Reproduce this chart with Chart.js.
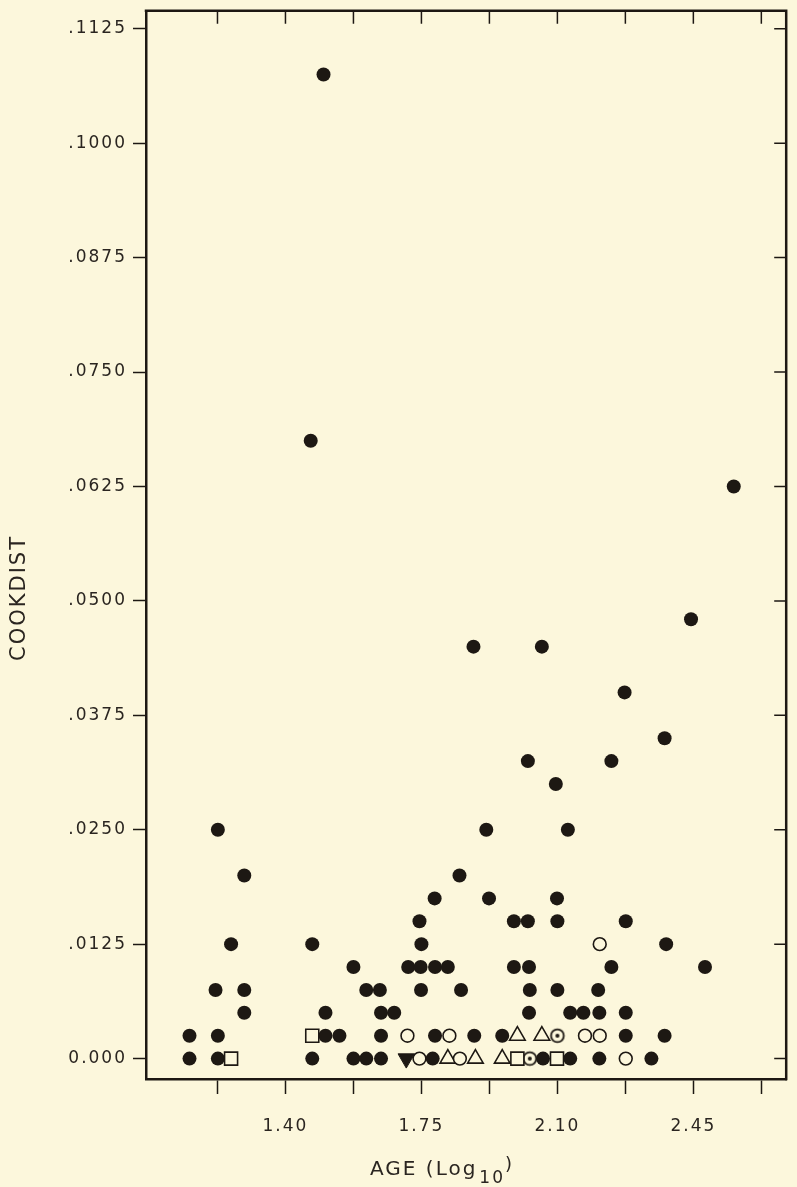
<!DOCTYPE html>
<html>
<head>
<meta charset="utf-8">
<script src="https://cdn.jsdelivr.net/npm/chart.js@4.4.0/dist/chart.umd.min.js"></script>
<style>
  html, body { margin: 0; padding: 0; background: #fcf7dc; }
  canvas { display: block; }
</style>
</head>
<body>
<canvas id="grafico" width="797" height="1187"></canvas>
<script>
// Datos: distancia de Cook contra edad (log10), un arreglo por tipo de símbolo

const llenosEdad = [
  1.153, 1.226, 1.469, 1.575, 1.608, 1.646, 1.779, 2.063, 2.133, 2.208, 2.342,
  1.153, 1.226, 1.503, 1.539, 1.646, 1.785, 1.886, 1.958, 2.276, 2.376,
  1.294, 1.503, 1.646, 1.680, 2.027, 2.133, 2.167, 2.208, 2.276,
  1.220, 1.294, 1.608, 1.643, 1.749, 1.852, 2.029, 2.100, 2.205,
  1.575, 1.716, 1.748, 1.785, 1.818, 1.988, 2.027, 2.239, 2.480,
  1.260, 1.469, 1.750, 2.380,
  1.745, 1.988, 2.024, 2.100, 2.276,
  1.784, 1.924, 2.099,
  1.294, 1.848,
  1.226, 1.917, 2.127,
  2.096,
  2.024, 2.239,
  2.376,
  2.273,
  1.884, 2.060,
  2.444,
  2.554,
  1.465,
  1.498
];
const llenosCook = [
  0, 0, 0, 0, 0, 0, 0, 0, 0, 0, 0,
  0.0025, 0.0025, 0.0025, 0.0025, 0.0025, 0.0025, 0.0025, 0.0025, 0.0025, 0.0025,
  0.005, 0.005, 0.005, 0.005, 0.005, 0.005, 0.005, 0.005, 0.005,
  0.0075, 0.0075, 0.0075, 0.0075, 0.0075, 0.0075, 0.0075, 0.0075, 0.0075,
  0.010, 0.010, 0.010, 0.010, 0.010, 0.010, 0.010, 0.010, 0.010,
  0.0125, 0.0125, 0.0125, 0.0125,
  0.015, 0.015, 0.015, 0.015, 0.015,
  0.0175, 0.0175, 0.0175,
  0.020, 0.020,
  0.025, 0.025, 0.025,
  0.030,
  0.0325, 0.0325,
  0.035,
  0.040,
  0.045, 0.045,
  0.048,
  0.0625,
  0.0675,
  0.1075
];

const abiertosEdad = [1.745, 1.849, 2.276, 1.714, 1.822, 2.171, 2.209, 2.209];
const abiertosCook = [0, 0, 0, 0.0025, 0.0025, 0.0025, 0.0025, 0.0125];

const triangulosEdad = [1.818, 1.889, 1.958, 1.997, 2.060];
const triangulosCook = [0, 0, 0, 0.0025, 0.0025];

const cuadradosEdad = [1.260, 1.997, 2.099, 1.469];
const cuadradosCook = [0, 0, 0, 0.0025];

const punteadosEdad = [2.029, 2.100];
const punteadosCook = [0, 0.0025];

const invertidosEdad = [1.711];
const invertidosCook = [0];

// Marcas de los ejes
const xTicks = [1.225, 1.40, 1.575, 1.75, 1.925, 2.10, 2.275, 2.45, 2.625];
const xEtiquetas = ['', '1.40', '', '1.75', '', '2.10', '', '2.45', ''];
const yTicks = [0, 0.0125, 0.025, 0.0375, 0.05, 0.0625, 0.075, 0.0875, 0.1, 0.1125];
const yEtiquetas = ['0.000', '.0125', '.0250', '.0375', '.0500', '.0625', '.0750', '.0875', '.1000', '.1125'];

const tinta = '#1d1813';
const fondo = '#fcf7dc';
const fuente = 'DejaVu Sans';

const puntos = (xs, ys) => xs.map((x, i) => ({ x: x, y: ys[i] }));

// circulo con punto en el centro
function circuloPunteado() {
  const c = document.createElement('canvas');
  c.width = 18; c.height = 18;
  const g = c.getContext('2d');
  g.fillStyle = fondo;
  g.strokeStyle = tinta;
  g.lineWidth = 1.8;
  g.beginPath(); g.arc(9, 9, 6.4, 0, Math.PI * 2); g.fill(); g.stroke();
  g.fillStyle = tinta;
  g.beginPath(); g.arc(9, 9, 2, 0, Math.PI * 2); g.fill();
  return c;
}

// marco superior/derecho, marcas interiores y títulos de ejes
const marco = {
  id: 'marco',
  beforeDraw(chart) {
    chart.ctx.letterSpacing = '2px';
  },
  afterDraw(chart) {
    const { ctx, chartArea: a, scales } = chart;
    ctx.save();
    ctx.strokeStyle = tinta;
    ctx.lineWidth = 2.5;
    ctx.lineCap = 'square';
    ctx.beginPath();
    ctx.moveTo(a.left, a.top);
    ctx.lineTo(a.right, a.top);
    ctx.lineTo(a.right, a.bottom);
    ctx.stroke();

    ctx.lineWidth = 1.5;
    ctx.lineCap = 'butt';
    ctx.beginPath();
    xTicks.forEach(v => {
      const px = scales.x.getPixelForValue(v);
      ctx.moveTo(px, a.top);
      ctx.lineTo(px, a.top + 13);
    });
    yTicks.forEach(v => {
      const py = scales.y.getPixelForValue(v);
      ctx.moveTo(a.right, py);
      ctx.lineTo(a.right - 12, py);
    });
    ctx.stroke();

    ctx.fillStyle = '#2a2520';
    ctx.letterSpacing = '2px';
    ctx.textBaseline = 'alphabetic';

    // COOKDIST
    ctx.save();
    ctx.translate(25, 598);
    ctx.rotate(-Math.PI / 2);
    ctx.font = '21px "' + fuente + '"';
    ctx.textAlign = 'center';
    ctx.fillText('COOKDIST', 0, 0);
    ctx.restore();

    // AGE (Log10)
    ctx.textAlign = 'left';
    ctx.font = '20px "' + fuente + '"';
    let x0 = 370;
    ctx.fillText('AGE (Log', x0, 1175);
    x0 += ctx.measureText('AGE (Log').width + 2;
    ctx.font = '17px "' + fuente + '"';
    ctx.fillText('10', x0, 1183);
    x0 += ctx.measureText('10').width;
    ctx.font = '18px "' + fuente + '"';
    ctx.fillText(')', x0, 1170);
    ctx.restore();
  }
};

const ctx = document.getElementById('grafico');

const chart = new Chart(ctx, {
  type: 'scatter',
  data: {
    datasets: [
      {
        label: 'abiertos',
        data: puntos(abiertosEdad, abiertosCook),
        pointStyle: 'circle',
        pointRadius: 6.4,
        borderWidth: 1.6,
        borderColor: tinta,
        backgroundColor: fondo
      },
      {
        label: 'triangulos',
        data: puntos(triangulosEdad, triangulosCook),
        pointStyle: 'triangle',
        pointRadius: 9,
        borderWidth: 1.6,
        borderColor: tinta,
        backgroundColor: fondo
      },
      {
        label: 'cuadrados',
        data: puntos(cuadradosEdad, cuadradosCook),
        pointStyle: 'rect',
        pointRadius: 9.2,
        borderWidth: 1.6,
        borderColor: tinta,
        backgroundColor: fondo
      },
      {
        label: 'punteados',
        data: puntos(punteadosEdad, punteadosCook),
        pointStyle: circuloPunteado(),
        pointRadius: 7
      },
      {
        label: 'invertidos',
        data: puntos(invertidosEdad, invertidosCook),
        pointStyle: 'triangle',
        rotation: 180,
        pointRadius: 9.5,
        borderWidth: 1,
        borderColor: tinta,
        backgroundColor: tinta
      },
      {
        label: 'llenos',
        data: puntos(llenosEdad, llenosCook),
        pointStyle: 'circle',
        pointRadius: 7,
        borderWidth: 0,
        borderColor: tinta,
        backgroundColor: tinta
      }
    ]
  },
  options: {
    responsive: false,
    animation: false,
    layout: { padding: { top: 6, right: 6, left: 0, bottom: 0 } },
    plugins: { legend: { display: false }, tooltip: { enabled: false } },
    scales: {
      x: {
        type: 'linear',
        min: 1.041,
        max: 2.689,
        afterBuildTicks: s => { s.ticks = xTicks.map(v => ({ value: v })); },
        afterFit: s => { s.height = 108; s.paddingLeft = 0; s.paddingRight = 0; },
        ticks: {
          autoSkip: false,
          maxRotation: 0,
          padding: 22,
          color: '#2a2520',
          font: { family: fuente, size: 17 },
          callback: (v, i) => xEtiquetas[i]
        },
        grid: { drawOnChartArea: false, tickLength: 15, tickColor: tinta, tickWidth: 1.5 },
        border: { color: tinta, width: 2.5 }
      },
      y: {
        type: 'linear',
        min: -0.00223,
        max: 0.11446,
        afterBuildTicks: s => { s.ticks = yTicks.map(v => ({ value: v })); },
        afterFit: s => { s.width = 146; s.paddingTop = 0; s.paddingBottom = 0; },
        ticks: {
          autoSkip: false,
          padding: 6,
          color: '#2a2520',
          font: { family: fuente, size: 17 },
          callback: (v, i) => yEtiquetas[i]
        },
        grid: { drawOnChartArea: false, tickLength: 13, tickColor: tinta, tickWidth: 1.5 },
        border: { color: tinta, width: 2.5 }
      }
    }
  },
  plugins: [marco]
});
</script>
</body>
</html>
